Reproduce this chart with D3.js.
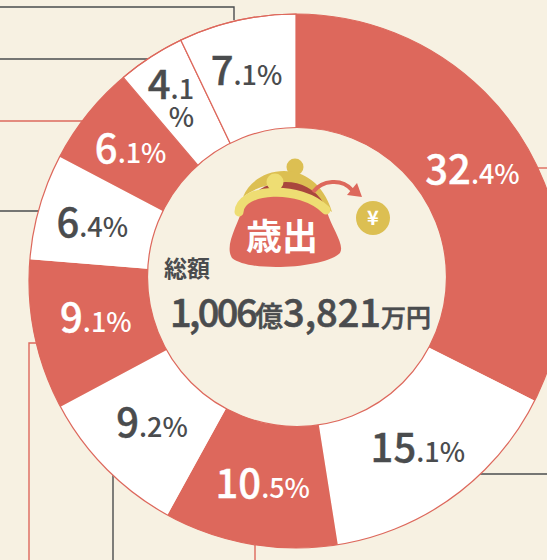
<!DOCTYPE html>
<html>
<head>
<meta charset="utf-8">
<script src="https://cdn.jsdelivr.net/npm/d3@7"></script>
<style>
  html, body { margin: 0; padding: 0; background: #f7f1e2; }
  svg { display: block; }
  text { font-family: "Noto Sans CJK JP", "Noto Sans", sans-serif; }
</style>
</head>
<body>
<svg id="chart" width="547" height="560"></svg>
<script>
// shares going clockwise from 12 o'clock
var shares = [32.4, 15.1, 10.5, 9.2, 9.1, 6.4, 6.1, 4.1, 7.1];
var wholeParts = ["32", "15", "10", "9", "9", "6", "6", "4", "7"];
var fractionParts = [".4%", ".1%", ".5%", ".2%", ".1%", ".4%", ".1%", ".1", ".1%"];
var sliceKinds = ["red", "white", "red", "white", "red", "white", "red", "white", "white"];

var titleLabel = "歳出";
var totalLabel = "総額";
var totalParts = ["1,006", "億", "3,821", "万円"];

var RED = "#dd685c";
var DARK = "#4a4c4e";
var cx = 296, cy = 281;

var svg = d3.select("#chart");

// leader lines that run off behind the ring
var leaders = [
  { d: "M0,7H234V20", c: DARK },
  { d: "M0,59H150", c: DARK },
  { d: "M0,121H84", c: RED },
  { d: "M0,211H40", c: DARK },
  { d: "M36,343H29V560", c: RED },
  { d: "M113,475V560", c: DARK },
  { d: "M255,545V560", c: RED },
  { d: "M480,474H547", c: DARK },
  { d: "M530,168H547", c: RED }
];
svg.selectAll("path.leader").data(leaders).enter().append("path")
  .attr("class", "leader")
  .attr("d", function(d) { return d.d; })
  .attr("fill", "none")
  .attr("stroke", function(d) { return d.c; })
  .attr("stroke-width", 1.4);

var pie = d3.pie().sort(null)(shares);
var arc = d3.arc().innerRadius(100).outerRadius(267);
var labelArc = d3.arc().innerRadius(208).outerRadius(208);

var ring = svg.append("g").attr("transform", "translate(" + cx + "," + cy + ")");

ring.selectAll("path.slice").data(pie).enter().append("path")
  .attr("class", "slice")
  .attr("d", arc)
  .attr("fill", function(d, i) { return sliceKinds[i] == "red" ? RED : "#fff"; })
  .attr("stroke", function(d, i) { return i >= 7 ? RED : "none"; })
  .attr("stroke-width", 1.2);

// red rim round the whole ring
ring.append("circle").attr("r", 267).attr("fill", "none").attr("stroke", RED).attr("stroke-width", 1.2);

// centre disc
svg.append("circle")
  .attr("cx", 297).attr("cy", 277).attr("r", 149.5)
  .attr("fill", "#f7f1e2").attr("stroke", RED).attr("stroke-width", 1.2);

// nudges off the slice centroid, by eye
var nudges = [[-0.5, 2], [-1, 3], [2.5, 2], [4, 0], [3.5, -1], [-4, 4], [-3, 2], [-12, -17], [-3.5, -3]];

// percent labels
var labels = ring.selectAll("text.pct").data(pie).enter().append("text")
  .attr("class", "pct")
  .attr("text-anchor", "middle")
  .attr("fill", function(d, i) { return sliceKinds[i] == "red" ? "#fff" : DARK; })
  .attr("transform", function(d, i) {
    var p = labelArc.centroid(d);
    return "translate(" + (p[0] + nudges[i][0]) + "," + (p[1] + 10 + nudges[i][1]) + ")";
  });
labels.append("tspan")
  .attr("font-size", 40).attr("font-weight", 500)
  .attr("stroke", function(d, i) { return sliceKinds[i] == "red" ? "#fff" : DARK; })
  .attr("stroke-width", 0.4)
  .text(function(d, i) { return wholeParts[i]; });
labels.append("tspan").attr("font-size", 27).attr("font-weight", 500).text(function(d, i) { return fractionParts[i]; });

// the 4.1 slice is too narrow, its % wraps to a second line
var narrow = labelArc.centroid(pie[7]);
ring.append("text").attr("class", "wrap")
  .attr("x", narrow[0] - 1.5).attr("y", narrow[1] + 21)
  .attr("text-anchor", "middle")
  .attr("font-size", 27).attr("font-weight", 500).attr("fill", DARK)
  .text("%");

// purse
var purse = svg.append("g");
purse.append("circle").attr("cx", 295).attr("cy", 167).attr("r", 8.5).attr("fill", "#dcbf52");
purse.append("path").attr("d", "M243,197C255,165 315,155 332,212L323,206C310,180 270,176 243,197Z").attr("fill", "#dcbf52");
purse.append("path").attr("d", "M255,193C275,176 310,178 324,204Z").attr("fill", "#a9463d");
purse.append("path").attr("d", "M243,207C262,189 305,190 327,212C332,228 345,245 340,253C325,268 250,273 232,258C224,245 238,225 243,207Z").attr("fill", RED);
purse.append("path").attr("d", "M239,212C240,188 300,184 326,210").attr("fill", "none").attr("stroke", "#eedd73").attr("stroke-width", 9).attr("stroke-linecap", "round");
purse.append("circle").attr("cx", 275).attr("cy", 182).attr("r", 8.5).attr("fill", "#eedd73");
purse.append("path").attr("d", "M313,192C322,180 342,178 352,190").attr("fill", "none").attr("stroke", RED).attr("stroke-width", 4);
purse.append("path").attr("d", "M357,183L362,197L347,195Z").attr("fill", RED);
purse.append("circle").attr("cx", 373).attr("cy", 218).attr("r", 17).attr("fill", "#dcbf52");
purse.append("text").attr("x", 373).attr("y", 225).attr("text-anchor", "middle")
  .attr("font-size", 20).attr("font-weight", 700).attr("fill", "#fff").text("¥");

svg.append("text").attr("x", 282).attr("y", 250).attr("text-anchor", "middle")
  .attr("font-size", 36).attr("font-weight", 700).attr("fill", "#fff").text(titleLabel);

svg.append("text").attr("x", 164).attr("y", 277)
  .attr("font-size", 23).attr("font-weight", 700).attr("fill", DARK).text(totalLabel);

var total = svg.append("text").attr("x", 170).attr("y", 327).attr("fill", DARK).attr("font-weight", 500)
  .attr("stroke", DARK).attr("stroke-width", 0.6);
total.selectAll("tspan").data(totalParts).enter().append("tspan")
  .attr("font-size", function(d, i) { return i % 2 == 0 ? 38 : (i == 1 ? 28 : 25); })
  .attr("letter-spacing", function(d, i) { return i == 0 ? -2.6 : 0; })
  .text(function(d) { return d; });
</script>
</body>
</html>
